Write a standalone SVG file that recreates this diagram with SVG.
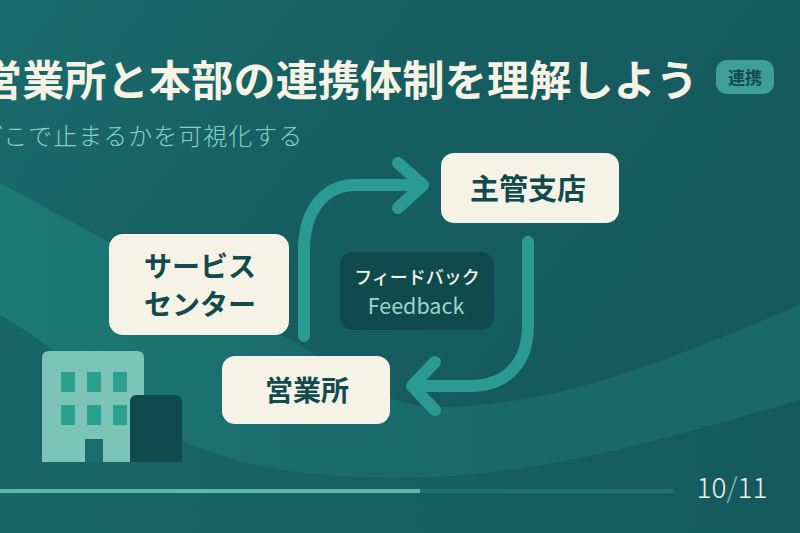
<svg xmlns="http://www.w3.org/2000/svg" width="800" height="533" viewBox="0 0 800 533">
<defs>
<linearGradient id="bg" x1="0" y1="0" x2="1" y2="0.5"><stop offset="0" stop-color="#1a6c6e"/><stop offset="0.45" stop-color="#165e62"/><stop offset="1" stop-color="#15585e"/></linearGradient>
<linearGradient id="band" x1="0" y1="0" x2="1" y2="0"><stop offset="0" stop-color="#1d7a75"/><stop offset="0.4" stop-color="#1a6b6b"/><stop offset="1" stop-color="#19686a"/></linearGradient>
<linearGradient id="low" x1="0" y1="0" x2="1" y2="0"><stop offset="0" stop-color="#186668"/><stop offset="1" stop-color="#15595e"/></linearGradient>
</defs>
<style>
text{font-family:"Noto Sans CJK JP","Noto Sans",sans-serif}
.card{fill:#f4f3e6}
.lbl{fill:#124a4e;font-weight:700;text-anchor:middle}
.flow{fill:none;stroke:#2b9a93;stroke-width:12;stroke-linecap:round;stroke-linejoin:round}
.win{fill:#2ba08f}
</style>
<rect width="800" height="533" fill="url(#bg)"/>
<path d="M0 183L300 345C350 378 390 405 430 407C560 410 690 350 800 305V400C680 435 540 478 400 478C300 478 230 465 170 435L0 315Z" fill="url(#band)"/>
<path d="M0 315C60 350 110 395 170 435C230 465 300 478 400 478C540 478 680 435 800 400V533H0Z" fill="url(#low)"/>
<g id="title"><text x="-20" y="96" font-size="42" letter-spacing="0.25" font-weight="700" fill="#f6f3e4">営業所と本部の連携体制を理解しよう</text></g>
<g id="subtitle"><text x="-21" y="145" font-size="24" letter-spacing="1" fill="#8ccfc3" font-weight="300">どこで止まるかを可視化する</text></g>
<g id="badge"><rect x="716" y="60" width="58" height="34" rx="11" fill="#3d9f98"/><text x="745" y="84" font-size="17" font-weight="700" fill="#124a4e" text-anchor="middle">連携</text></g>
<g id="connectors">
<path class="flow" d="M304 336V250C304 210 325 185 355 185H422"/>
<path class="flow" d="M398 163L423 185L398 208"/>
<path class="flow" d="M528 242V325C528 365 505 386 470 386H414"/>
<path class="flow" d="M435 362L412 386L435 410"/>
</g>
<g id="node-shukan"><rect class="card" x="441" y="153" width="178" height="70" rx="13"/><text class="lbl" x="528" y="200" font-size="29">主管支店</text></g>
<g id="node-service"><rect class="card" x="109" y="234" width="180" height="101" rx="14"/><text class="lbl" x="200" y="277" font-size="28">サービス</text><text class="lbl" x="200" y="315" font-size="28">センター</text></g>
<g id="node-eigyo"><rect class="card" x="222" y="356" width="168" height="68" rx="13"/><text class="lbl" x="307" y="401" font-size="28">営業所</text></g>
<g id="feedback"><rect x="340" y="252" width="154" height="78" rx="13" fill="#0f4a4d"/><text x="417" y="284" font-size="18" font-weight="500" fill="#f4f3e6" text-anchor="middle">フィードバック</text><text x="416" y="314" font-size="21.5" fill="#9ed3c8" text-anchor="middle">Feedback</text></g>
<g id="building">
<path d="M42 462V358Q42 351 49 351H137Q144 351 144 358V462Z" fill="#7cc4b8"/>
<rect class="win" x="61" y="372" width="14" height="20"/><rect class="win" x="87" y="372" width="14" height="20"/><rect class="win" x="113" y="372" width="14" height="20"/>
<rect class="win" x="61" y="405" width="14" height="20"/><rect class="win" x="87" y="405" width="14" height="20"/><rect class="win" x="113" y="405" width="14" height="20"/>
<rect x="85" y="439" width="18" height="23" fill="#1a6e6e"/>
<path d="M130 462V402Q130 395 137 395H175Q182 395 182 402V462Z" fill="#0f4a4d"/>
</g>
<g id="progress"><rect x="0" y="489" width="674" height="4" rx="2" fill="#1f7473"/><rect x="0" y="489" width="420" height="4" fill="#5fb5a8"/></g>
<g id="page"><text x="732" y="498" font-size="28" font-weight="300" fill="#f4f3e6" text-anchor="middle">10<tspan fill="#7cc4b8">/</tspan>11</text></g>
</svg>
